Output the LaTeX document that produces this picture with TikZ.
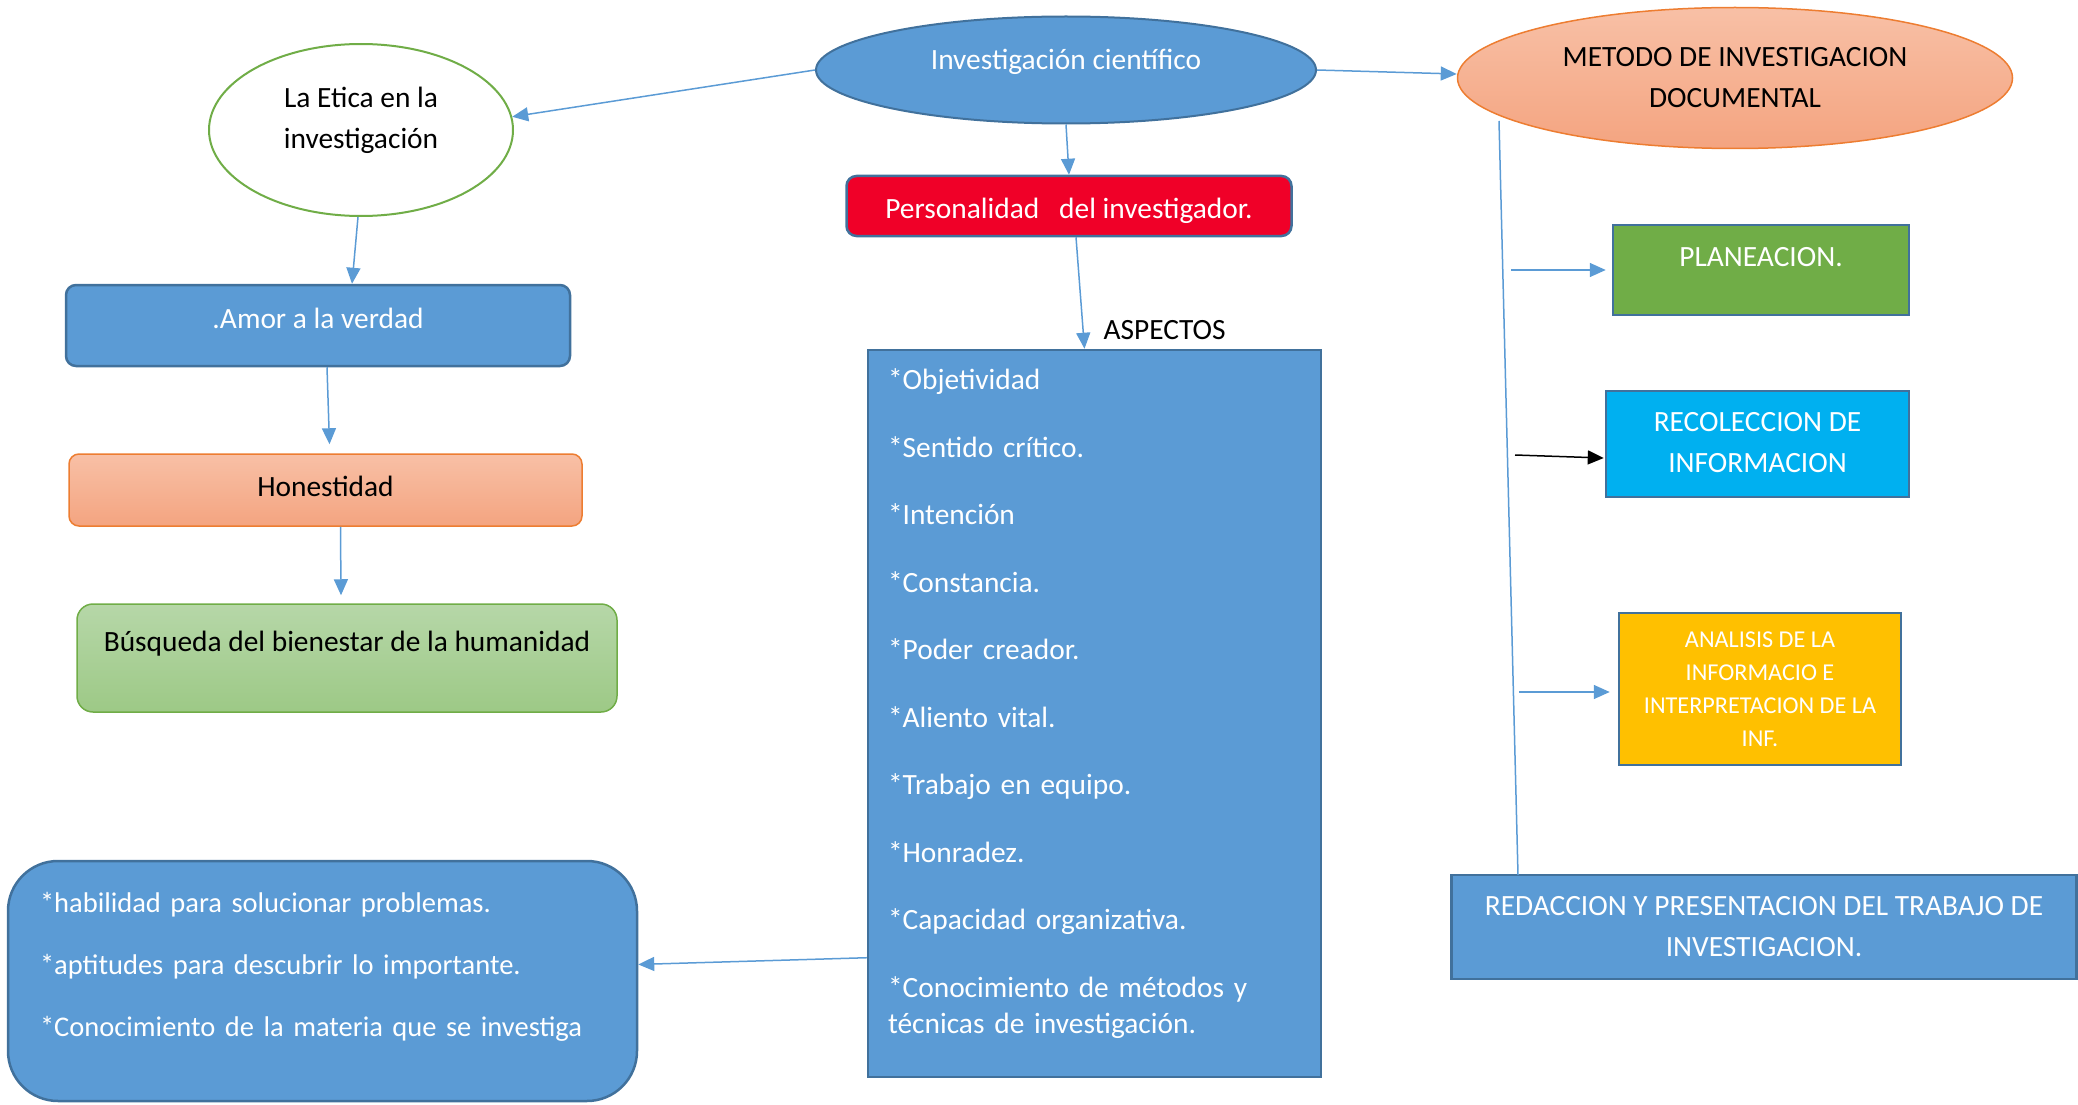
\documentclass[tikz,border=0pt]{standalone}
\usepackage{fontspec}
\setmainfont{Carlito}
\usetikzlibrary{shapes.geometric, arrows.meta, positioning}

\definecolor{azul}{RGB}{91,155,213}
\definecolor{azulborde}{RGB}{65,113,156}
\definecolor{rojo}{RGB}{240,0,40}
\definecolor{salmonclaro}{RGB}{248,192,166}
\definecolor{salmon}{RGB}{244,164,128}
\definecolor{naranja}{RGB}{237,125,49}
\definecolor{verdeclaro}{RGB}{182,215,168}
\definecolor{verdemedio}{RGB}{157,201,134}
\definecolor{verde}{RGB}{112,173,71}
\definecolor{celeste}{RGB}{0,176,240}
\definecolor{oro}{RGB}{255,192,0}

\tikzset{
  caja/.style={rectangle, draw=azulborde, line width=2.5pt, text=white, align=center, inner sep=4pt},
  redonda/.style={caja, rounded corners=10pt},
  ovalo/.style={ellipse, line width=2pt, align=center, inner sep=0pt},
  flecha/.style={draw=azul, line width=1.5pt, -{Triangle[length=16pt,width=14pt]}}
}

\begin{document}
\begin{tikzpicture}[x=1pt, y=-1pt, font=\fontsize{29.4}{41}\selectfont]
  \useasboundingbox (0,0) rectangle (2078,1105);

  \node[ovalo, fill=azul, draw=azulborde, text=white, text depth=22pt, minimum width=500, minimum height=107] (investigacion) at (1066,70) {Investigación científico};
  \node[ovalo, fill=white, draw=verde, text depth=25pt, minimum width=304, minimum height=172] (etica) at (361,130) {La Etica en la\\investigación};
  \node[ovalo, top color=salmonclaro, bottom color=salmon, draw=naranja, line width=1.5pt, minimum width=555, minimum height=141] (metodo) at (1735,78) {METODO DE INVESTIGACION\\DOCUMENTAL};

  \node[redonda, fill=rojo, text height=31pt, minimum width=445, minimum height=60] (personalidad) at (1069,206) {Personalidad\ \ \ del investigador.};
  \node[caja, fill=azul, minimum width=453, minimum height=727, text width=413, align=left, font=\fontsize{29.4}{36}\selectfont] (aspectos) at (1094.5,713.5) {*Objetividad\\[31.5pt]*Sentido crítico.\\[31.5pt]*Intención\\[31.5pt]*Constancia.\\[31.5pt]*Poder creador.\\[31.5pt]*Aliento vital.\\[31.5pt]*Trabajo en equipo.\\[31.5pt]*Honradez.\\[31.5pt]*Capacidad organizativa.\\[31.5pt]*Conocimiento de métodos y\\técnicas de investigación.\\[-11pt]\mbox{}};
  \node[anchor=base west, inner sep=0pt] (aspectoslabel) at ([xshift=9pt, yshift=9pt]aspectos.north) {ASPECTOS};

  \node[redonda, fill=azul, text depth=14pt, minimum width=504, minimum height=81] (amor) at (318,325.5) {.Amor a la verdad};
  \node[redonda, top color=salmonclaro, bottom color=salmon, draw=naranja, line width=1.5pt, text=black, text depth=8pt, minimum width=513, minimum height=72] (honestidad) at (325.5,490) {Honestidad};
  \node[redonda, rounded corners=16pt, top color=verdeclaro, bottom color=verdemedio, draw=verde, line width=1.5pt, text=black, text depth=33pt, minimum width=540, minimum height=108] (busqueda) at (347,658) {Búsqueda del bienestar de la humanidad};
  \node[redonda, rounded corners=50pt, fill=azul, minimum width=629, minimum height=240, text width=565, align=left, font=\fontsize{28.5}{41}\selectfont] (cualidades) at (322.5,981) {*habilidad para solucionar problemas.\\[21pt]*aptitudes para descubrir lo importante.\\[21pt]*Conocimiento de la materia que se investiga\\[-8pt]\mbox{}};

  \node[caja, fill=verde, text depth=26pt, minimum width=296, minimum height=90] (planeacion) at (1761,270) {PLANEACION.};
  \node[caja, fill=celeste, text depth=4pt, minimum width=303, minimum height=106] (recoleccion) at (1757.5,444) {RECOLECCION DE\\INFORMACION};
  \node[caja, fill=oro, minimum width=282, minimum height=152, font=\fontsize{24.2}{33}\selectfont] (analisis) at (1760,689) {ANALISIS DE LA\\INFORMACIO E\\INTERPRETACION DE LA\\INF.};
  \node[caja, fill=azul, minimum width=625, minimum height=104] (redaccion) at (1764,927) {REDACCION Y PRESENTACION DEL TRABAJO DE\\INVESTIGACION.};

  \draw[flecha] (investigacion.west) -- (etica.5);
  \draw[flecha] (investigacion.east) -- ([yshift=4pt]metodo.west);
  \draw[flecha] (investigacion.south) -- (personalidad.north);
  \draw[flecha] ([xshift=7pt]personalidad.south) -- ([xshift=-10pt]aspectos.north);
  \draw[flecha] ([xshift=-3pt]etica.south) -- ([xshift=34pt]amor.north);
  \draw[flecha] ([xshift=9pt]amor.south) -- ([xshift=4pt, yshift=9pt]honestidad.north);
  \draw[flecha] ([xshift=15pt]honestidad.south) -- ([xshift=-6pt, yshift=8pt]busqueda.north);
  \draw[flecha] (aspectos.227) -- (cualidades.3);

  \coordinate (lineaarriba) at (1499,121);
  \coordinate (lineaabajo) at (1518,875);
  \coordinate (ramaplan) at (1511,270);
  \coordinate (ramareco) at (1515,455);
  \coordinate (ramaanal) at (1519,692);
  \draw[azul, line width=1.5pt] (lineaarriba) -- (lineaabajo);
  \draw[flecha] (ramaplan) -- ([xshift=-6pt]planeacion.west);
  \draw[flecha, draw=black] (ramareco) -- ([xshift=-1pt, yshift=-14pt]recoleccion.west);
  \draw[flecha] (ramaanal) -- ([xshift=-8pt, yshift=-3pt]analisis.west);

\end{tikzpicture}
\end{document}
